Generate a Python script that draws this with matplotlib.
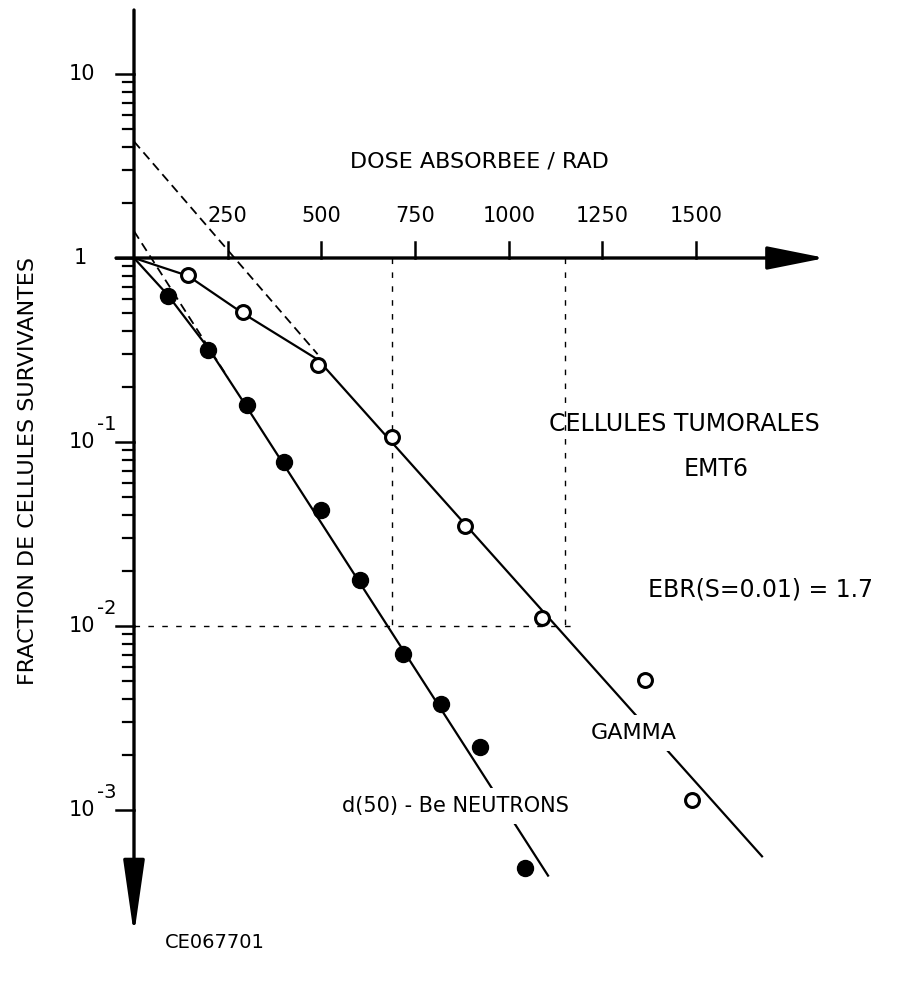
import numpy as np
import matplotlib.pyplot as plt

# d(50)-Be neutrons (filled circles): dose in rad, surviving fraction
neutron_dose = [91, 197, 302, 400, 499, 603, 718, 819, 923, 1043]
neutron_surv = [0.62, 0.316, 0.159, 0.078, 0.0427, 0.0178, 0.00705, 0.00377, 0.0022, 0.000484]
# gamma (open circles)
gamma_dose = [144, 291, 491, 689, 883, 1089, 1364, 1489]
gamma_surv = [0.81, 0.51, 0.262, 0.106, 0.0349, 0.011, 0.0051, 0.00113]

# hand drawn curves
neutron_fit_dose = [0, 90, 200, 300, 1105]
neutron_fit_surv = [1, 0.63, 0.32, 0.156, 0.00044]
gamma_fit_dose = [0, 144, 291, 491, 1676]
gamma_fit_surv = [1, 0.80, 0.50, 0.28, 0.00056]
# back extrapolations (dashed)
neutron_extr_dose = [0, 250]
neutron_extr_surv = [1.4, 0.225]
gamma_extr_dose = [0, 490]
gamma_extr_surv = [4.3, 0.30]

# EBR construction at S = 0.01
ebr_level = 0.01
ebr_dose = [689, 1150]

xticks = [250, 500, 750, 1000, 1250, 1500]
decades = [10, 1, 0.1, 0.01, 0.001]
dec_base = ['10', '1', '10', '10', '10']
dec_exp = ['', '', '-1', '-2', '-3']

fig = plt.figure(figsize=(9.08, 9.84), dpi=100)
ax = fig.add_axes([0, 0, 1, 1])
ax.set_yscale('log')
ax.set_xlim(-357.6, 2065.6)
ax.set_ylim(10**(-726/184), 10**(258/184))
ax.axis('off')

# axes drawn as arrows
ax.annotate('', xy=(1845, 1), xytext=(-48, 1),
            arrowprops=dict(arrowstyle='-|>,head_length=1.8,head_width=0.36', mutation_scale=20,
                            lw=2.4, color='k', fc='k', shrinkA=0, shrinkB=0))
ax.annotate('', xy=(0, 10**(-677/184)), xytext=(0, 10**(248/184)),
            arrowprops=dict(arrowstyle='-|>,head_length=2.3,head_width=0.33', mutation_scale=20,
                            lw=2.4, color='k', fc='k', shrinkA=0, shrinkB=0))

# x ticks (upwards) and labels
for t in xticks:
    ax.plot([t, t], [1, 10**(16/184)], color='k', lw=1.8)
    ax.text(t, 10**(42/184), str(t), ha='center', va='center', fontsize=15)

# y ticks (to the left)
for d in decades:
    ax.plot([-48, 0], [d, d], color='k', lw=1.8)
for d in decades[1:]:
    for m in range(2, 10):
        ax.plot([-30, 0], [d*m, d*m], color='k', lw=1.6)
for d, b, e in zip(decades, dec_base, dec_exp):
    if b == '1':
        ax.text(-144, d, b, ha='center', va='center', fontsize=15)
    else:
        ax.text(-104, d, b, ha='right', va='center', fontsize=15)
    if e:
        ax.text(-100, d*10**(17/184), e, ha='left', va='center', fontsize=14)

# EBR dotted construction
ax.plot([0, 1185], [ebr_level, ebr_level], color='k', lw=1.0, ls=(0, (4, 6)))
for e in ebr_dose:
    ax.plot([e, e], [1, ebr_level], color='k', lw=1.0, ls=(0, (4, 6)))

# extrapolations
ax.plot(neutron_extr_dose, neutron_extr_surv, color='k', lw=1.3, ls=(0, (5, 3)))
ax.plot(gamma_extr_dose, gamma_extr_surv, color='k', lw=1.3, ls=(0, (5, 3)))

# curves
ax.plot(neutron_fit_dose, neutron_fit_surv, color='k', lw=1.6)
ax.plot(gamma_fit_dose, gamma_fit_surv, color='k', lw=1.6)

# points
ax.plot(neutron_dose, neutron_surv, 'o', color='k', ms=11.5, zorder=5)
ax.plot(gamma_dose, gamma_surv, 'o', mfc='white', mec='k', mew=2.2, ms=10, zorder=5)

# texts
ax.text(922, 10**(96/184), 'DOSE ABSORBEE / RAD', ha='center', va='center', fontsize=16)
ax.text(-283, 0.07, 'FRACTION DE CELLULES SURVIVANTES', rotation=90, ha='center', va='center', fontsize=16)
ax.text(1468, 10**(-166/184), 'CELLULES TUMORALES', ha='center', va='center', fontsize=17)
ax.text(1553, 10**(-211/184), 'EMT6', ha='center', va='center', fontsize=17)
ax.text(1372, 10**(-331/184), 'EBR(S=0.01) = 1.7', ha='left', va='center', fontsize=17)
ax.text(1334, 10**(-475/184), 'GAMMA', ha='center', va='center', fontsize=16,
        bbox=dict(fc='white', ec='none', pad=6), zorder=4)
ax.text(857, 0.00105, 'd(50) - Be NEUTRONS', ha='center', va='center', fontsize=15,
        bbox=dict(fc='white', ec='none', pad=6), zorder=4)
ax.text(216, 1.9e-4, 'CE067701', ha='center', va='center', fontsize=14)

fig.savefig('out.png', dpi=100)
